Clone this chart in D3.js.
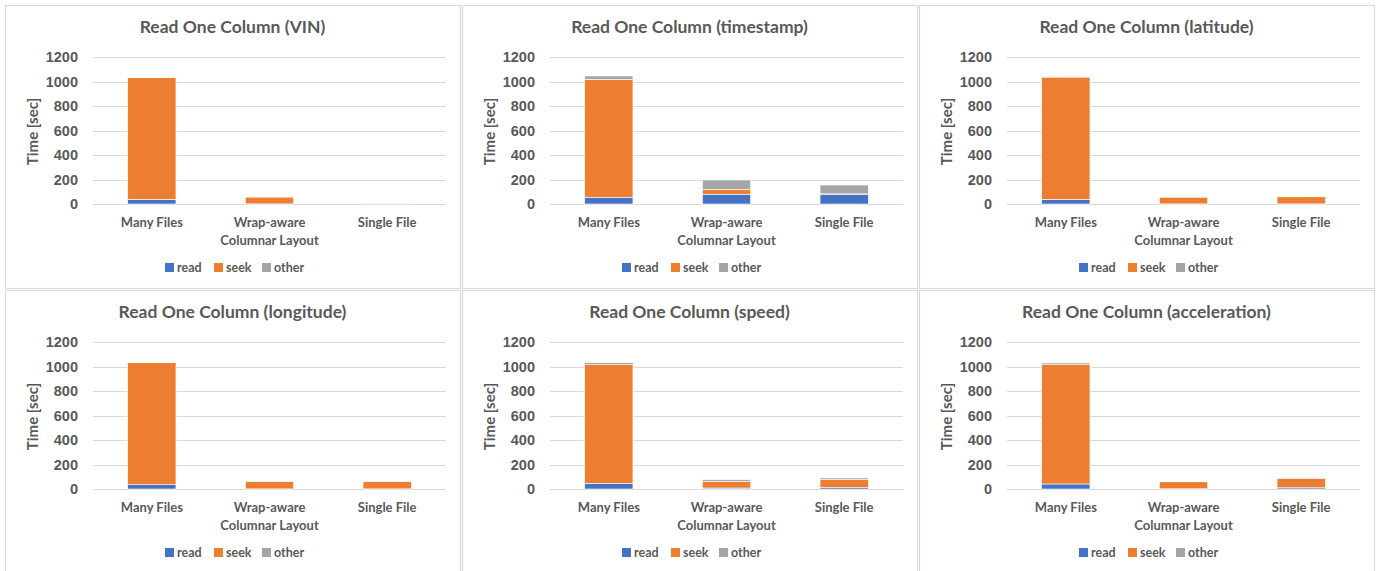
<!DOCTYPE html>
<html>
<head>
<meta charset="utf-8">
<script src="https://cdn.jsdelivr.net/npm/d3@7"></script>
<style>
    body { margin: 0; background: #ffffff; }
    svg { display: block; font-family: Lato, "Open Sans", sans-serif; }
    .title { font-size: 17.5px; font-weight: 700; fill: #595959; }
    .tick-label { font-size: 14.5px; font-weight: 700; fill: #595959; }
    .cat-label { font-size: 13px; font-weight: 700; fill: #595959; }
    .axis-title { font-size: 15px; font-weight: 700; fill: #595959; }
    .legend-label { font-size: 12.5px; font-weight: 700; fill: #595959; }
</style>
</head>
<body>
<svg id="chart" width="1379" height="571"></svg>
<script>
// Categories and series
const CATEGORIES = ["Many Files", "Wrap-aware Columnar Layout", "Single File"];
const CATEGORY_LABELS = [["Many Files"], ["Wrap-aware", "Columnar Layout"], ["Single File"]];
const SERIES = ["read", "seek", "other"];
const SERIES_COLORS = ["#4472C4", "#ED7D31", "#A5A5A5"];
const Y_TICKS = [0, 200, 400, 600, 800, 1000, 1200];
const PANEL_TITLES = [
    "Read One Column (VIN)",
    "Read One Column (timestamp)",
    "Read One Column (latitude)",
    "Read One Column (longitude)",
    "Read One Column (speed)",
    "Read One Column (acceleration)"
];

// Values per panel, one entry per category
const VIN_READ = [38, 1, 3];
const VIN_SEEK = [993, 56, 1];
const VIN_OTHER = [3, 4, 2];

const TIMESTAMP_READ = [55, 80, 80];
const TIMESTAMP_SEEK = [963, 40, 3];
const TIMESTAMP_OTHER = [27, 76, 72];

const LATITUDE_READ = [38, 1, 1];
const LATITUDE_SEEK = [998, 55, 58];
const LATITUDE_OTHER = [4, 2, 3];

const LONGITUDE_READ = [35, 1, 1];
const LONGITUDE_SEEK = [996, 60, 59];
const LONGITUDE_OTHER = [3, 2, 2];

const SPEED_READ = [46, 8, 12];
const SPEED_SEEK = [969, 55, 64];
const SPEED_OTHER = [16, 13, 14];

const ACCEL_READ = [41, 2, 10];
const ACCEL_SEEK = [974, 57, 75];
const ACCEL_OTHER = [14, 4, 5];

const PANEL_VALUES = [
    [VIN_READ, VIN_SEEK, VIN_OTHER],
    [TIMESTAMP_READ, TIMESTAMP_SEEK, TIMESTAMP_OTHER],
    [LATITUDE_READ, LATITUDE_SEEK, LATITUDE_OTHER],
    [LONGITUDE_READ, LONGITUDE_SEEK, LONGITUDE_OTHER],
    [SPEED_READ, SPEED_SEEK, SPEED_OTHER],
    [ACCEL_READ, ACCEL_SEEK, ACCEL_OTHER]
];

const svg = d3.select("#chart");

// Panel grid
const colX = [5, 462, 919];
const rowY = [5, 290];
const panelWidth = 455;
const panelHeights = [283, 290];

const plotLeft = 88;
const plotRight = 441;
const plotTop = 52;
const plotBottom = 199;

const xScale = d3.scaleBand()
    .domain(CATEGORIES)
    .range([plotLeft, plotRight])
    .paddingInner(0.59)
    .paddingOuter(0.295);

const yScale = d3.scaleLinear()
    .domain([0, 1200])
    .range([plotBottom, plotTop]);

const colorScale = d3.scaleOrdinal()
    .domain(SERIES)
    .range(SERIES_COLORS);

const stack = d3.stack().keys(SERIES);

PANEL_TITLES.forEach((title, p) => {
    const col = p % 3;
    const row = Math.floor(p / 3);
    const g = svg.append("g")
        .attr("transform", "translate(" + colX[col] + " " + rowY[row] + ")");

    // frame
    g.append("rect")
        .attr("x", 0.5)
        .attr("y", 0.5)
        .attr("width", panelWidth)
        .attr("height", panelHeights[row])
        .attr("fill", "#ffffff")
        .attr("stroke", "#d9d9d9")
        .attr("stroke-width", 1.2);

    g.append("text")
        .attr("class", "title")
        .attr("x", panelWidth / 2)
        .attr("y", 28)
        .attr("text-anchor", "middle")
        .text(title);

    // gridlines
    g.selectAll(".grid")
        .data(Y_TICKS)
        .enter()
        .append("line")
        .attr("x1", plotLeft)
        .attr("x2", plotRight)
        .attr("y1", (d) => Math.round(yScale(d)) + 0.5)
        .attr("y2", (d) => Math.round(yScale(d)) + 0.5)
        .attr("stroke", "#d9d9d9")
        .attr("stroke-width", 1);

    const yAxis = d3.axisLeft(yScale)
        .tickValues(Y_TICKS)
        .tickFormat(d3.format("d"))
        .tickSize(0)
        .tickPadding(15);

    const axisG = g.append("g")
        .attr("transform", "translate(" + plotLeft + " 0)")
        .call(yAxis);
    axisG.select(".domain").remove();
    axisG.selectAll("text")
        .attr("class", "tick-label")
        .attr("font-family", null)
        .attr("font-size", null)
        .attr("fill", null);

    g.append("text")
        .attr("class", "axis-title")
        .attr("transform", "translate(28 " + ((plotTop + plotBottom) / 2 + 1) + ") rotate(-90)")
        .attr("text-anchor", "middle")
        .attr("dy", "0.35em")
        .text("Time [sec]");

    // stacked bars
    const values = PANEL_VALUES[p];
    const rows = CATEGORIES.map((cat, i) => {
        const r = { category: cat };
        SERIES.forEach((s, j) => { r[s] = values[j][i]; });
        return r;
    });

    const layers = stack(rows);

    g.selectAll(".layer")
        .data(layers)
        .enter()
        .append("g")
        .attr("fill", (d) => colorScale(d.key))
        .selectAll("rect")
        .data((d) => d)
        .enter()
        .append("rect")
        .attr("x", (d) => xScale(d.data.category))
        .attr("width", xScale.bandwidth())
        .attr("y", (d) => yScale(d[1]))
        .attr("height", (d) => yScale(d[0]) - yScale(d[1]))
        .attr("stroke", "#ffffff")
        .attr("stroke-width", 0.6);

    // category labels
    CATEGORIES.forEach((cat, i) => {
        const t = g.append("text")
            .attr("class", "cat-label")
            .attr("text-anchor", "middle")
            .attr("x", xScale(cat) + xScale.bandwidth() / 2)
            .attr("y", 222);
        CATEGORY_LABELS[i].forEach((line, k) => {
            t.append("tspan")
                .attr("x", xScale(cat) + xScale.bandwidth() / 2)
                .attr("dy", k === 0 ? 0 : 18)
                .text(line);
        });
    });

    // legend
    const legendX = [160, 209, 257];
    SERIES.forEach((s, j) => {
        g.append("rect")
            .attr("x", legendX[j])
            .attr("y", 258)
            .attr("width", 9)
            .attr("height", 9)
            .attr("fill", colorScale(s));
        g.append("text")
            .attr("class", "legend-label")
            .attr("x", legendX[j] + 12)
            .attr("y", 267)
            .text(s);
    });
});
</script>
</body>
</html>
